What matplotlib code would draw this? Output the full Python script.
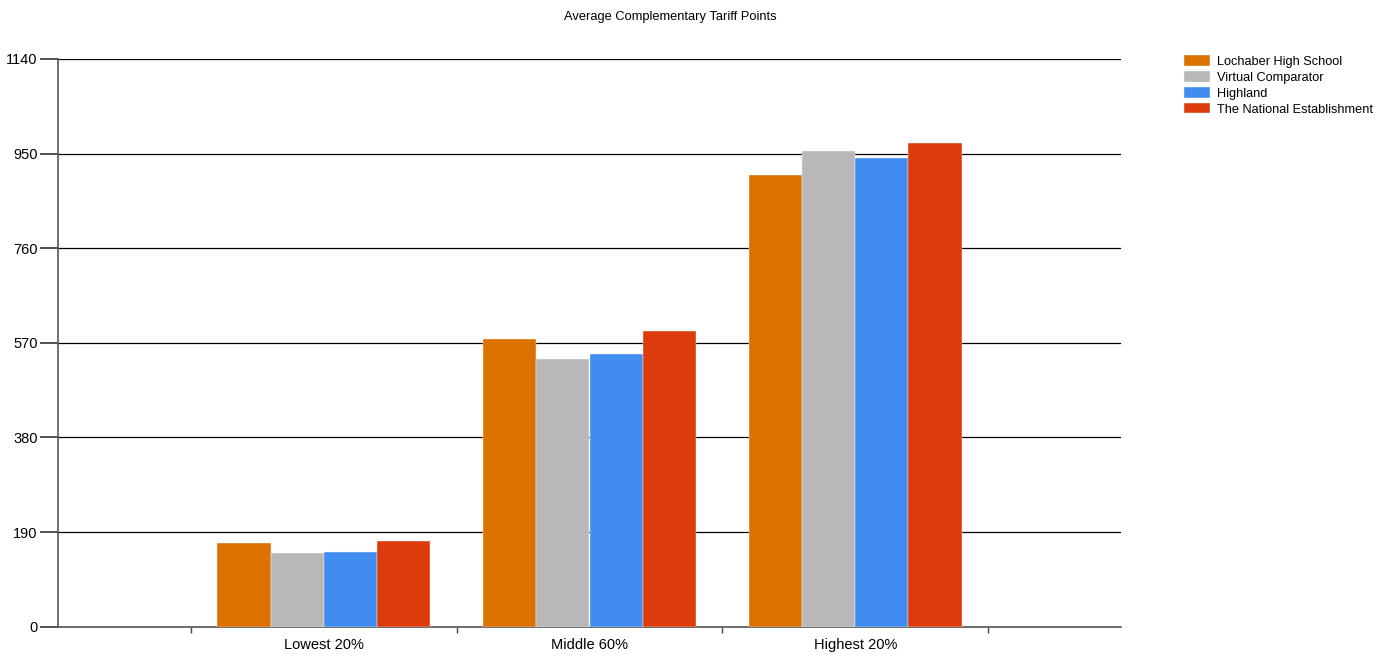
import matplotlib
matplotlib.use("Agg")
import matplotlib.pyplot as plt
import numpy as np

categories = ["Lowest 20%", "Middle 60%", "Highest 20%"]
series_names = ["Lochaber High School", "Virtual Comparator", "Highland", "The National Establishment"]
lochaber = [169, 577, 907]
virtual = [148, 538, 956]
highland = [150, 547, 942]
national = [172, 594, 972]
colors = ["#DB7200", "#B8B8B8", "#418CF0", "#DC3C0C"]
y_ticks = [0, 190, 380, 570, 760, 950, 1140]

plt.rcParams["font.family"] = ["Liberation Sans", "DejaVu Sans"]

fig = plt.figure(figsize=(13.97, 6.58), dpi=100)
ax = fig.add_axes([58 / 1397, 1 - 626.7 / 658, (1121 - 58) / 1397, (626.7 - 59) / 658])

x = np.arange(1, len(categories) + 1)
width = 0.2
all_series = [lochaber, virtual, highland, national]
handles = []
for i, (vals, name, col) in enumerate(zip(all_series, series_names, colors)):
    h = ax.bar(x - 0.3 + i * width, vals, width, color=col, label=name,
               edgecolor="#f4f4f4", linewidth=0.3, zorder=3)
    handles.append(h)

ax.set_xlim(0, 4)
ax.set_ylim(0, 1140)
ax.set_yticks(y_ticks)
ax.set_yticklabels([str(t) for t in y_ticks], fontsize=10.5)
ax.yaxis.grid(True, color="black", linewidth=0.9, zorder=0)
ax.set_axisbelow(True)

# category labels between boundary ticks
ax.set_xticks([0.5, 1.5, 2.5, 3.5])
ax.set_xticklabels([])
ax.set_xticks(x, minor=True)
ax.set_xticklabels(categories, minor=True, fontsize=10.5)
ax.tick_params(axis="x", which="minor", length=0, pad=8)
ax.tick_params(axis="x", which="major", length=4.5, width=1, color="#444444", direction="out")
ax.tick_params(axis="y", which="major", length=13, width=1.2, color="#333333", direction="out", pad=1.5)

for side in ["top", "right"]:
    ax.spines[side].set_visible(False)
for side in ["left", "bottom"]:
    ax.spines[side].set_color("#555555")
    ax.spines[side].set_linewidth(1.2)

fig.text(0.48, 1 - 17 / 658, "Average Complementary Tariff Points", ha="center", va="center", fontsize=9.3)

fig.legend(handles=handles, labels=series_names, loc="upper left",
           bbox_to_anchor=(1179 / 1397, 1 - 50 / 658), frameon=False,
           fontsize=9.2, handlelength=2.0, handleheight=0.9, labelspacing=0.25,
           handletextpad=0.6, borderaxespad=0)

fig.savefig("out.png", dpi=100)
